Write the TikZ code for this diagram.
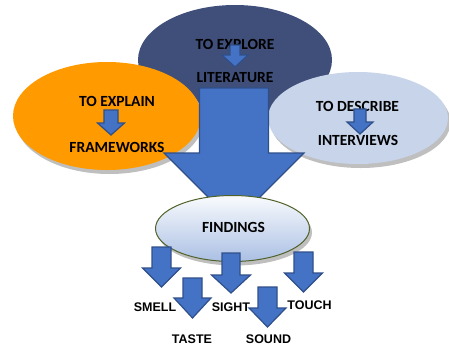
\documentclass[tikz,border=0pt]{standalone}
\usepackage{fontspec}
\usepackage{tikz}
\usetikzlibrary{shapes.geometric, shadows}
\newfontfamily\calib{Carlito}
\newfontfamily\arialf{Liberation Sans}
\usepackage{xcolor}
\definecolor{mSlate}{HTML}{3F4F7A}
\definecolor{mOrange}{HTML}{FF9A00}
\definecolor{mPale}{HTML}{C7D4EA}
\definecolor{mArrow}{HTML}{4472C4}
\definecolor{mArrowLine}{HTML}{2F4F8A}
\definecolor{mOlive}{HTML}{4F6228}
\tikzset{
  bigoval/.style={ellipse, inner sep=0pt},
  ovaltext/.style={font=\calib\bfseries\fontsize{15.5}{18}\selectfont, inner sep=0pt},
  sense/.style={font=\arialf\bfseries\fontsize{12.5}{15}\selectfont, inner sep=0pt},
  arr/.style={fill=mArrow, draw=mArrowLine, line width=1.2pt, line join=miter}
}
% x, top, head base, tip, shaft half width, head half width
\newcommand{\dnarrow}[6]{%
  \draw[arr] (#1-#5,#2) -- (#1+#5,#2) -- (#1+#5,#3) -- (#1+#6,#3) -- (#1,#4)
    -- (#1-#6,#3) -- (#1-#5,#3) -- cycle;}

\begin{document}
\begin{tikzpicture}[
        x=1pt, y=-1pt,
        softshadow/.style={drop shadow={shadow xshift=2.5pt, shadow yshift=-4pt, fill=black!25, opacity=1}},
        findoval/.style={ellipse, draw=mOlive, line width=1pt, top color=white!90!mPale, bottom color=mArrow!45,
          minimum width=154pt, minimum height=66pt, softshadow}
        ]
        \useasboundingbox (0,0) rectangle (449,349);
        \node[bigoval, fill=mSlate, minimum width=194pt, minimum height=110pt] (explore) at (235,60) {};
        \node[bigoval, fill=mOrange, minimum width=188pt, minimum height=108pt, softshadow] (explain) at (107,116) {};
        \node[bigoval, fill=mPale, minimum width=180pt, minimum height=92pt, softshadow] (describe) at (358,118) {};

        \node[ovaltext] (exploretop) at (235,44.5) {TO EXPLORE};
        \node[ovaltext] (explorebot) at (235,78) {LITERATURE};
        \node[ovaltext] (explaintop) at (117,101) {TO EXPLAIN};
        \node[ovaltext] (explainbot) at (117,147) {FRAMEWORKS};
        \node[ovaltext] (describetop) at (357.5,106) {TO DESCRIBE};
        \node[ovaltext] (describebot) at (358,140.5) {INTERVIEWS};

        \dnarrow{235}{45}{55}{67}{5}{13}
        \dnarrow{111}{110}{123}{135}{7}{13.5}
        \dnarrow{360}{109}{122}{134}{6}{13}
        \dnarrow{234}{88}{153}{223}{34.5}{70}

        \node[findoval] (findings) at (232.5,228.5) {};
        \node[ovaltext] (findtext) at (233.5,227.5) {FINDINGS};

        \node[sense] (smell) at (155,307) {SMELL};
        \node[sense] (sight) at (231,307) {SIGHT};
        \node[sense] (touch) at (309.5,305.5) {TOUCH};
        \node[sense] (taste) at (192,339.5) {TASTE};
        \node[sense] (sound) at (268.5,339.5) {SOUND};

        \dnarrow{161.5}{247}{268}{287}{9.5}{19}
        \dnarrow{192.5}{278}{298}{318}{9.5}{18.5}
        \dnarrow{231}{253}{275}{293}{9}{19.5}
        \dnarrow{267.5}{287}{308}{327}{9.5}{18.5}
        \dnarrow{303.5}{252}{273}{292}{9.5}{19}
      \end{tikzpicture}
\end{document}
